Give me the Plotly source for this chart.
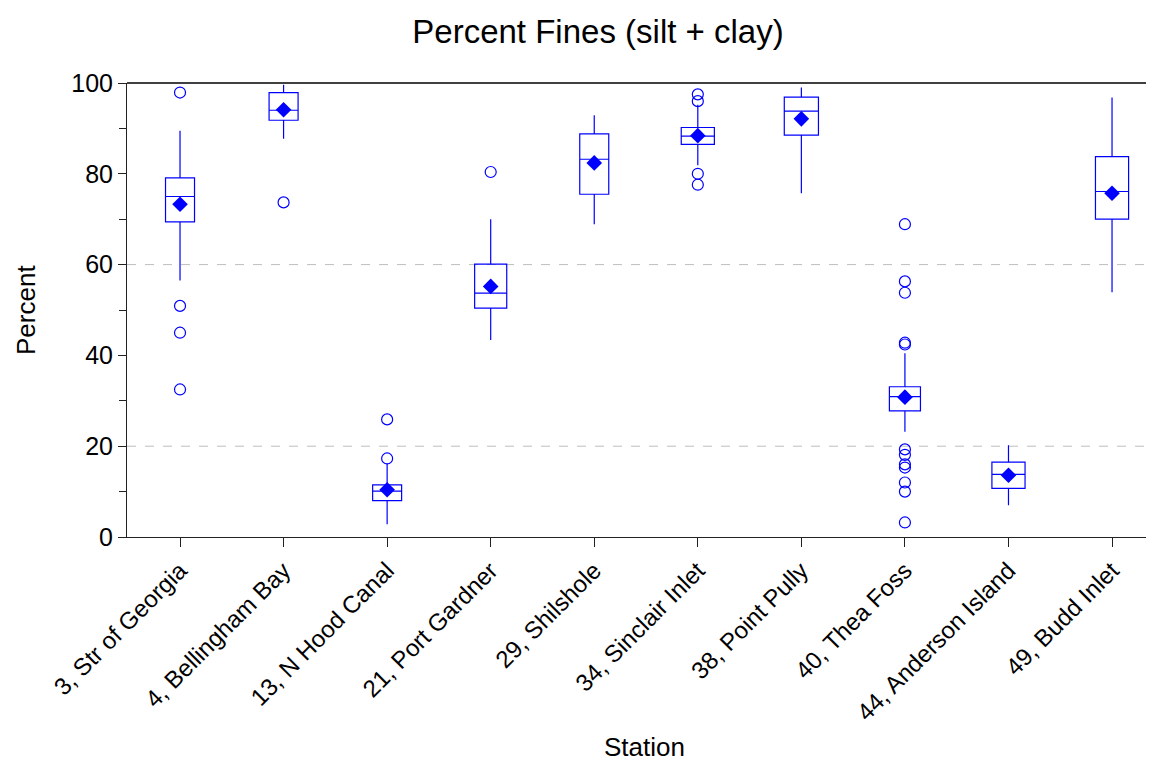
import plotly.graph_objects as go

# Station labels and summary statistics (percent fines)
stations = ["3, Str of Georgia", "4, Bellingham Bay", "13, N Hood Canal",
            "21, Port Gardner", "29, Shilshole", "34, Sinclair Inlet",
            "38, Point Pully", "40, Thea Foss", "44, Anderson Island",
            "49, Budd Inlet"]
lower_whisker = [56.5, 87.7, 2.8, 43.4, 68.9, 81.9, 75.7, 23.2, 7.0, 53.9]
q1 = [69.4, 91.8, 8.0, 50.4, 75.5, 86.5, 88.5, 27.8, 10.7, 70.0]
median = [75.0, 94.0, 10.1, 53.7, 83.2, 88.3, 93.8, 30.9, 13.8, 76.1]
q3 = [79.1, 97.9, 11.5, 60.1, 88.8, 90.2, 96.9, 33.1, 16.5, 83.8]
upper_whisker = [89.5, 99.6, 16.1, 70.0, 92.9, 95.2, 99.0, 40.5, 20.2, 96.8]
mean = [73.3, 94.1, 10.4, 55.2, 82.4, 88.4, 92.1, 30.8, 13.6, 75.7]
outliers = [
    [97.9, 50.9, 45.0, 32.5],
    [73.7],
    [25.9, 17.3],
    [80.4],
    [],
    [97.5, 96.0, 80.0, 77.6],
    [],
    [68.9, 56.3, 53.8, 42.8, 42.4, 19.3, 18.1, 16.0, 15.3, 12.0, 10.0, 3.2],
    [],
    [],
]

# Styling
BLUE = "#0000FF"
AXIS = "#222222"
FONT = "Liberation Sans, Arial, sans-serif"
box_widths = [0.28, 0.28, 0.28, 0.31, 0.28, 0.32, 0.33, 0.30, 0.32, 0.32]

fig = go.Figure()

for i, name in enumerate(stations):
    fig.add_trace(go.Box(
        x=[i], q1=[q1[i]], median=[median[i]], q3=[q3[i]],
        lowerfence=[lower_whisker[i]], upperfence=[upper_whisker[i]],
        width=box_widths[i], whiskerwidth=0,
        line=dict(color=BLUE, width=1.2), fillcolor="rgba(255,255,255,0)",
        boxpoints=False, showlegend=False, hoverinfo="skip", name=name,
    ))

# Outlying observations
ox, oy = [], []
for i, vals in enumerate(outliers):
    ox += [i] * len(vals)
    oy += vals
fig.add_trace(go.Scatter(
    x=ox, y=oy, mode="markers", showlegend=False,
    marker=dict(symbol="circle-open", size=11, color=BLUE, line=dict(width=1.2, color=BLUE)),
))

# Means
fig.add_trace(go.Scatter(
    x=list(range(len(stations))), y=mean, mode="markers", showlegend=False,
    marker=dict(symbol="diamond", size=12, color=BLUE, line=dict(width=0)),
))

# Dashed reference lines and top frame
shapes = []
for yv in (20, 60):
    shapes.append(dict(type="line", xref="paper", x0=0, x1=1, yref="y", y0=yv, y1=yv,
                       line=dict(color="#BDBDBD", width=1, dash="dash"), layer="below"))
shapes.append(dict(type="line", xref="paper", x0=0, x1=1, yref="paper", y0=1, y1=1,
                   line=dict(color="black", width=1.3)))

fig.update_layout(
    width=1153, height=761,
    margin=dict(l=127, r=7, t=83, b=224),
    paper_bgcolor="white", plot_bgcolor="white",
    font=dict(family=FONT, color="black", size=24),
    title=dict(text="Percent Fines (silt + clay)", x=598 / 1153, xref="container",
               xanchor="center", y=1 - 31 / 761, yanchor="middle",
               font=dict(size=33, family=FONT, color="black")),
    xaxis=dict(
        range=[-0.512, 9.328], tickmode="array",
        tickvals=list(range(len(stations))), ticktext=stations,
        tickangle=-45, ticks="outside", ticklen=9, tickcolor=AXIS,
        showline=True, linecolor=AXIS, linewidth=1,
        showgrid=False, zeroline=False, tickfont=dict(size=24),
    ),
    yaxis=dict(
        range=[0, 100], tickvals=[0, 20, 40, 60, 80, 100],
        ticks="outside", ticklen=8, tickcolor=AXIS,
        minor=dict(tickvals=[10, 30, 50, 70, 90], ticks="outside", ticklen=7, tickcolor=AXIS),
        showline=True, linecolor=AXIS, linewidth=1,
        showgrid=False, zeroline=False, tickfont=dict(size=25),
    ),
    shapes=shapes,
    annotations=[
        dict(text="Percent", xref="paper", yref="paper", x=(26 - 127) / 1019, y=0.5,
             textangle=-90, showarrow=False, font=dict(size=26),
             xanchor="center", yanchor="middle"),
        dict(text="Station", xref="paper", yref="paper", x=(644 - 127) / 1019,
             y=(537 - 747) / 454, showarrow=False, font=dict(size=26),
             xanchor="center", yanchor="middle", borderpad=0),
    ],
)

fig.write_html("out.html")
